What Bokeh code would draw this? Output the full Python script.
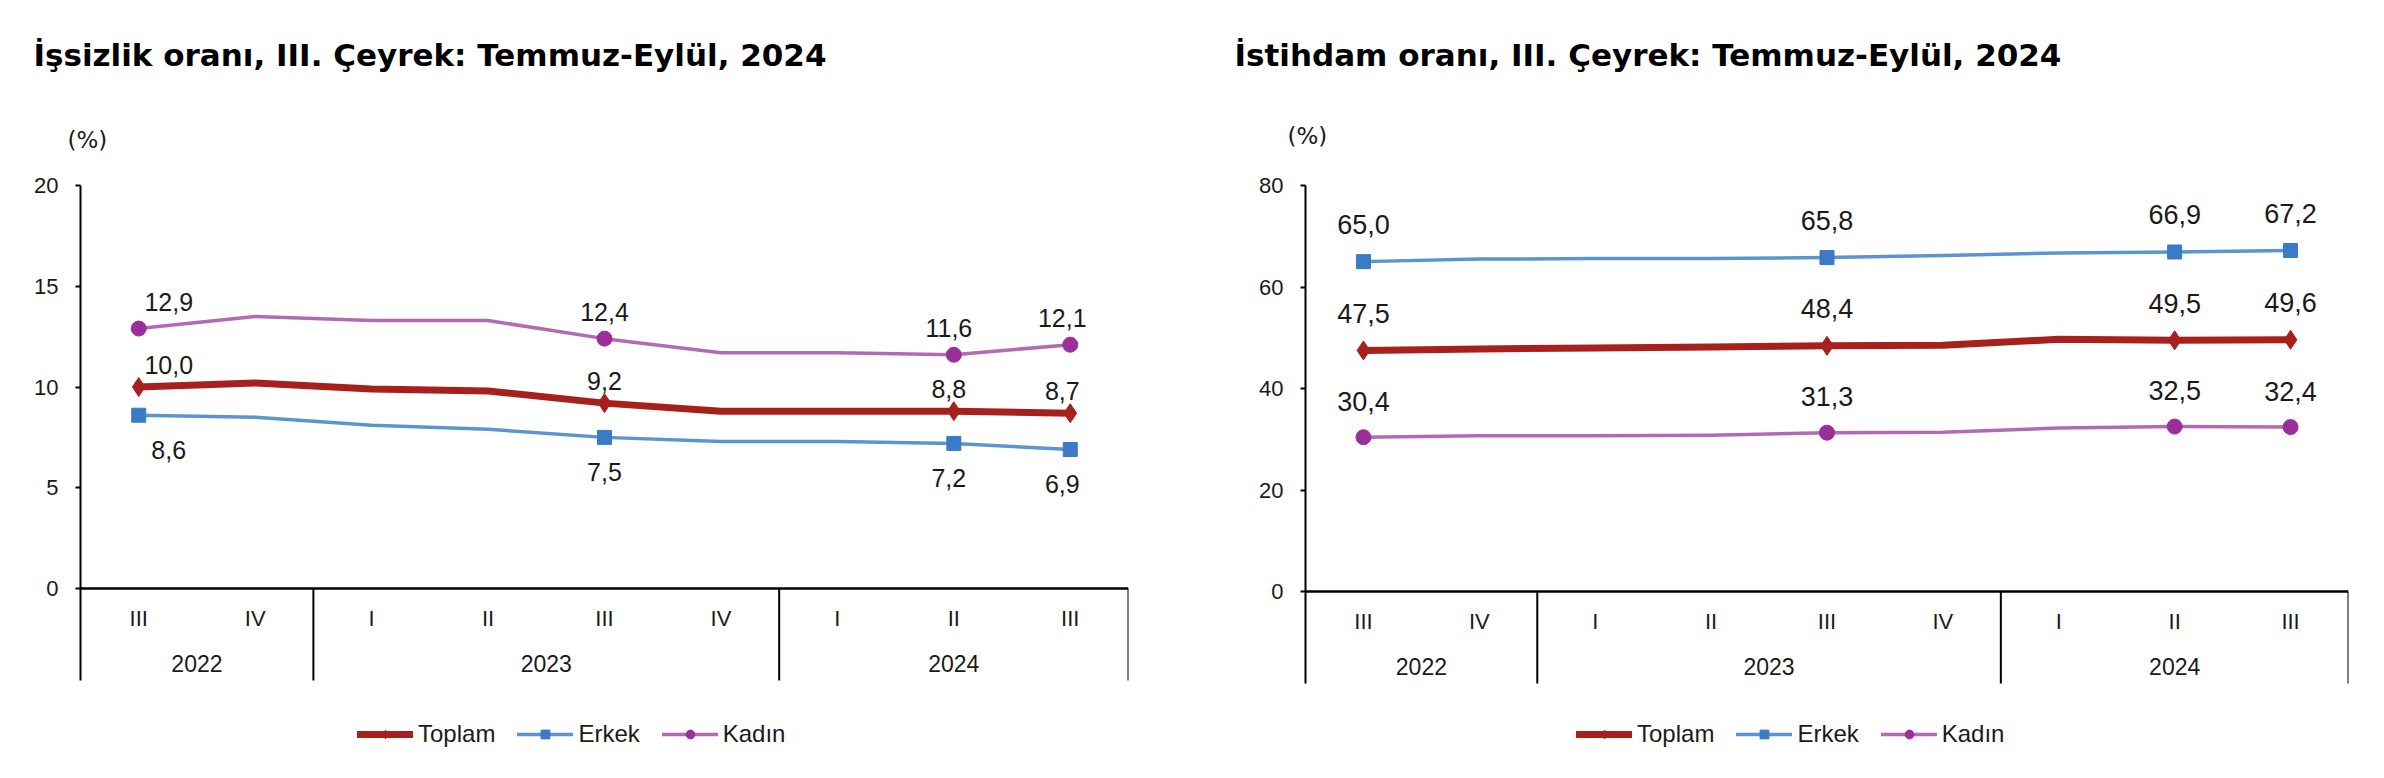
from bokeh.plotting import figure
from bokeh.models import (FactorRange, Range1d, LinearAxis, FixedTicker, Span, Title,
                          Legend, LegendItem, ColumnDataSource)
from bokeh.layouts import row
from bokeh.embed import file_html
from bokeh.resources import INLINE
from bokeh.core.properties import value

# ---------------- data ----------------
years = ["2022", "2022", "2023", "2023", "2023", "2023", "2024", "2024", "2024"]
quarters = ["III", "IV", "I", "II", "III", "IV", "I", "II", "III"]
series_names = ["Toplam", "Erkek", "Kadın"]

issizlik_toplam = [10.0, 10.2, 9.9, 9.8, 9.2, 8.8, 8.8, 8.8, 8.7]
issizlik_erkek = [8.6, 8.5, 8.1, 7.9, 7.5, 7.3, 7.3, 7.2, 6.9]
issizlik_kadin = [12.9, 13.5, 13.3, 13.3, 12.4, 11.7, 11.7, 11.6, 12.1]

istihdam_toplam = [47.5, 47.8, 48.0, 48.2, 48.4, 48.5, 49.7, 49.5, 49.6]
istihdam_erkek = [65.0, 65.5, 65.6, 65.6, 65.8, 66.2, 66.7, 66.9, 67.2]
istihdam_kadin = [30.4, 30.7, 30.7, 30.8, 31.3, 31.4, 32.2, 32.5, 32.4]

labeled_points = [0, 4, 7, 8]   # points that carry a marker and a value label

issizlik_ticks = [0, 5, 10, 15, 20]
istihdam_ticks = [0, 20, 40, 60, 80]

title_left = "İşsizlik oranı, III. Çeyrek: Temmuz-Eylül, 2024"
title_right = "İstihdam oranı, III. Çeyrek: Temmuz-Eylül, 2024"
unit_text = "(%)"

# ---------------- style ----------------
C_TOT = "#A8201E"
C_MEN_LINE = "#5B95D0"
C_MEN_MARK = "#3B7AC4"
C_WOM_LINE = "#B36AB3"
C_WOM_MARK = "#9A2E9A"
TXT = "#1a1a1a"
FONT = "Liberation Sans"

FIG_H = 776
B_TOP, B_BOTTOM = 185, 6
FRAME_H = FIG_H - B_TOP - B_BOTTOM
AXIS_PX_BELOW_ZERO = 92      # the category band below the zero line, in pixels

factors = list(zip(years, quarters))
year_groups = list(dict.fromkeys(years))


def fmt(v):
    return f"{v:.1f}".replace(".", ",")


def build(title, tot, men, wom, ticks, zero_px, fig_w, b_left, b_right, dy, dx, lab_size,
          title_off, title_standoff, pct_off, pct_standoff, legend_x):
    top = ticks[-1]
    ppu = zero_px / top                         # pixels per unit
    ymin = top - FRAME_H / ppu                  # frame bottom in data units
    band_bottom = -AXIS_PX_BELOW_ZERO / ppu     # bottom of category band

    p = figure(width=fig_w, height=FIG_H,
               x_range=FactorRange(*factors, range_padding=0, factor_padding=0,
                                   group_padding=0, subgroup_padding=0),
               y_range=Range1d(ymin, top),
               x_axis_location=None, y_axis_location=None,
               min_border_left=b_left, min_border_right=b_right,
               min_border_top=B_TOP, min_border_bottom=B_BOTTOM,
               toolbar_location=None, output_backend="svg",
               background_fill_color="white", border_fill_color="white")
    p.outline_line_color = None
    p.grid.visible = False
    p.title.text = ""

    yax = LinearAxis(ticker=FixedTicker(ticks=ticks), bounds=(band_bottom, top),
                     axis_line_color="black", axis_line_width=2,
                     major_tick_line_color="black", major_tick_line_width=2,
                     major_tick_out=5, major_tick_in=0,
                     minor_tick_line_color=None,
                     major_label_text_font=FONT, major_label_text_font_size="22px",
                     major_label_text_color=TXT, major_label_standoff=17)
    p.add_layout(yax, "left")

    # x axis line at zero and group separators
    p.add_layout(Span(location=0, dimension="width", line_color="black", line_width=2.5))
    sep_x = []
    for g in year_groups:
        last_q = [q for (y, q) in factors if y == g][-1]
        sep_x.append([g, last_q, 0.5])
    sep_src = ColumnDataSource(dict(x=sep_x, y0=[0] * len(sep_x),
                                    y1=[band_bottom] * len(sep_x)))
    p.segment(x0="x", y0="y0", x1="x", y1="y1", source=sep_src,
              line_color="black", line_width=2)

    # category labels
    p.text(x=factors, y=[0] * len(factors), text=quarters, y_offset=30,
           text_align="center", text_baseline="middle",
           text_font=value(FONT), text_font_size="22px", text_color=TXT)
    p.text(x=year_groups, y=[0] * len(year_groups), text=year_groups, y_offset=75,
           text_align="center", text_baseline="middle",
           text_font=value(FONT), text_font_size="23px", text_color=TXT)

    # series
    specs = [
        (tot, C_TOT, C_TOT, 7, "diamond", 19),
        (men, C_MEN_LINE, C_MEN_MARK, 3.5, "square", 14),
        (wom, C_WOM_LINE, C_WOM_MARK, 3.5, "circle", 15),
    ]
    items = []
    for k, (vals, lc, mc, lw, mk, ms) in enumerate(specs):
        lr = p.line(x=factors, y=vals, line_color=lc, line_width=lw,
                    line_join="round", line_cap="round")
        mx = [factors[i] for i in labeled_points]
        my = [vals[i] for i in labeled_points]
        mr = p.scatter(x=mx, y=my, marker=mk, size=ms, fill_color=mc, line_color=mc)
        src = ColumnDataSource(dict(x=mx, y=my, t=[fmt(v) for v in my],
                                    xo=dx, yo=[dy[k]] * len(my)))
        p.text(x="x", y="y", text="t", x_offset="xo", y_offset="yo", source=src,
               text_align="center", text_baseline="middle",
               text_font=value(FONT), text_font_size=lab_size, text_color=TXT)
        items.append(LegendItem(label=series_names[k], renderers=[lr, mr]))

    # unit label (nearest to the frame) and chart title above it
    p.add_layout(Title(text=unit_text, align="left", offset=pct_off, standoff=pct_standoff,
                       vertical_align="bottom", text_font="DejaVu Sans",
                       text_font_size="23px", text_font_style="normal",
                       text_color=TXT), "above")
    p.add_layout(Title(text=title, align="left", offset=title_off, standoff=title_standoff,
                       vertical_align="bottom", text_font="DejaVu Sans",
                       text_font_size="31px", text_font_style="bold",
                       text_color="black"), "above")

    leg = Legend(items=items, orientation="horizontal", location=(legend_x, 22),
                 glyph_width=56, glyph_height=22, label_standoff=5, spacing=22,
                 padding=0, margin=0, border_line_color=None, background_fill_alpha=0,
                 label_text_font=FONT, label_text_font_size="24px", label_text_color=TXT)
    p.add_layout(leg)
    return p


p1 = build(title_left, issizlik_toplam, issizlik_erkek, issizlik_kadin, issizlik_ticks,
           zero_px=403, fig_w=1192, b_left=80, b_right=64,
           dy=[-22, 35, -27], dx=[30, 0, -5, -8], lab_size="25px",
           title_off=-47, title_standoff=40, pct_off=-13, pct_standoff=65, legend_x=277)
p2 = build(title_right, istihdam_toplam, istihdam_erkek, istihdam_kadin, istihdam_ticks,
           zero_px=406, fig_w=1190, b_left=113, b_right=34,
           dy=[-37, -37, -36], dx=[0, 0, 0, 0], lab_size="27px",
           title_off=-71, title_standoff=24, pct_off=-18, pct_standoff=73, legend_x=271)

layout = row(p1, p2)
open("out.html", "w").write(file_html(layout, INLINE))
